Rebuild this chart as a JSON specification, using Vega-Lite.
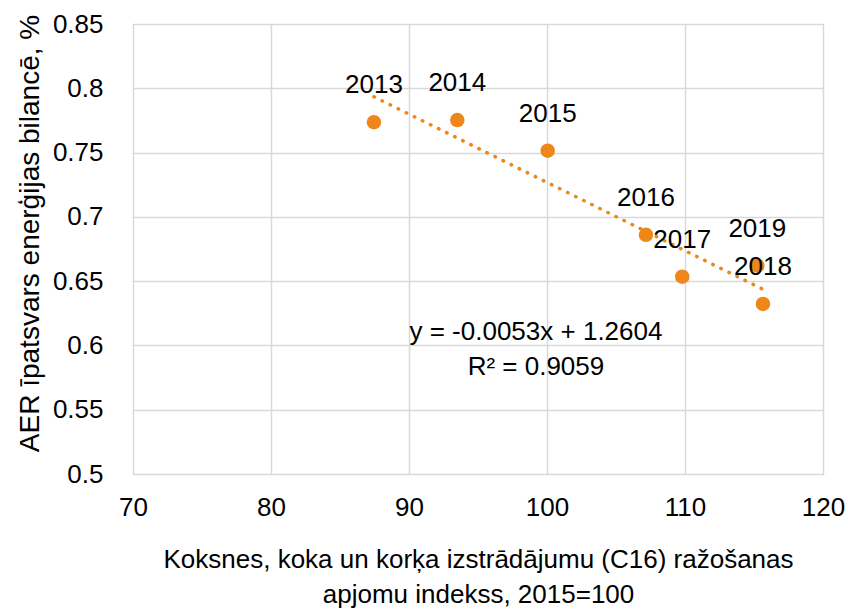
{
  "$schema": "https://vega.github.io/schema/vega-lite/v6.json",
  "autosize": "none",
  "width": 690,
  "height": 450,
  "padding": {"left": 133, "top": 24, "right": 25, "bottom": 136},
  "background": "white",
  "config": {
    "font": "Liberation Sans, Arial, sans-serif",
    "view": {"stroke": "#8c8c8c", "strokeWidth": 1},
    "axis": {
      "gridColor": "#d9d9d9",
      "gridWidth": 1.5,
      "domain": false,
      "ticks": false,
      "labelFlush": false,
      "labelFont": "Liberation Sans, Arial, sans-serif",
      "titleFont": "Liberation Sans, Arial, sans-serif",
      "labelColor": "#000000",
      "titleColor": "#000000",
      "labelFontSize": 26,
      "titleFontSize": 26,
      "titleFontWeight": "normal"
    }
  },
  "data": {
    "values": [
      {"year": "2013", "index": 87.46, "share": 0.7736},
      {"year": "2014", "index": 93.5, "share": 0.7753},
      {"year": "2015", "index": 100.05, "share": 0.7515},
      {"year": "2016", "index": 107.17, "share": 0.686},
      {"year": "2017", "index": 109.8, "share": 0.6535},
      {"year": "2018", "index": 115.65, "share": 0.6323},
      {"year": "2019", "index": 115.24, "share": 0.662}
    ]
  },
  "layer": [
    {
      "transform": [{"regression": "share", "on": "index"}],
      "mark": {"type": "line", "color": "#ef861a", "strokeWidth": 3.5, "strokeCap": "round", "strokeDash": [0.5, 8.5]},
      "encoding": {
        "x": {"field": "index", "type": "quantitative"},
        "y": {"field": "share", "type": "quantitative"}
      }
    },
    {
      "mark": {"type": "circle", "color": "#ef861a", "opacity": 1, "size": 210},
      "encoding": {
        "x": {
          "field": "index",
          "type": "quantitative",
          "scale": {"domain": [70, 120], "nice": false, "zero": false},
          "axis": {
            "values": [70, 80, 90, 100, 110, 120],
            "labelPadding": 20,
            "labelFlush": false,
            "title": ["Koksnes, koka un korķa izstrādājumu (C16) ražošanas", "apjomu indekss, 2015=100"],
            "titlePadding": 26,
            "titleLineHeight": 35
          }
        },
        "y": {
          "field": "share",
          "type": "quantitative",
          "scale": {"domain": [0.5, 0.85], "nice": false, "zero": false},
          "axis": {
            "values": [0.5, 0.55, 0.6, 0.65, 0.7, 0.75, 0.8, 0.85],
            "format": ".2~f",
            "labelPadding": 30,
            "labelFlush": false,
            "title": "AER īpatsvars enerģijas bilancē, %",
            "titleFontSize": 28,
            "titlePadding": 8,
            "titleY": 209
          }
        }
      }
    },
    {
      "mark": {"type": "text", "fontSize": 26, "color": "#000000", "baseline": "middle", "align": "center", "dy": -37},
      "encoding": {
        "x": {"field": "index", "type": "quantitative"},
        "y": {"field": "share", "type": "quantitative"},
        "text": {"field": "year"}
      }
    },
    {
      "data": {"values": [{"label": "trend"}]},
      "mark": {"type": "text", "fontSize": 26, "color": "#000000", "baseline": "middle", "align": "center", "lineHeight": 35},
      "encoding": {
        "x": {"datum": 99.2},
        "y": {"datum": 0.6105},
        "text": {"value": ["y = -0.0053x + 1.2604", "R² = 0.9059"]}
      }
    }
  ]
}
